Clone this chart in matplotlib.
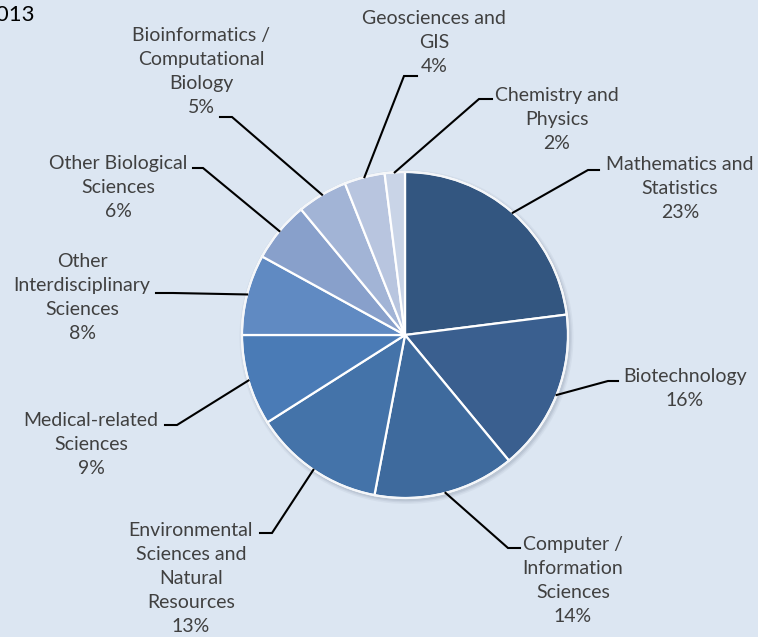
import numpy as np
import matplotlib.pyplot as plt
from matplotlib.patches import Circle

plt.rcParams['font.family'] = ['Lato', 'DejaVu Sans']

# data
categories = ['Mathematics and\nStatistics', 'Biotechnology',
              'Computer /\nInformation\nSciences',
              'Environmental\nSciences and\nNatural\nResources',
              'Medical-related\nSciences', 'Other\nInterdisciplinary\nSciences',
              'Other Biological\nSciences', 'Bioinformatics /\nComputational\nBiology',
              'Geosciences and\nGIS', 'Chemistry and\nPhysics']
shares = [23, 16, 14, 13, 9, 8, 6, 5, 4, 2]

colors = ['#335680', '#3a5f8f', '#3e6a9d', '#4473a9', '#4a7bb6',
          '#608ac2', '#88a0cb', '#a2b4d6', '#b8c5df', '#c9d4e7']

W, H = 758, 637
def fy(y):
    # pixel row -> data y
    return H - y

# label layout (pixel coords): text centre x, first line y, elbow, line end
lab_x = [680, 685, 573, 191, 91, 82, 118, 201, 434, 557]
lab_y = [163, 376, 542, 527, 419, 259, 162, 33, 17, 94]
elbow = [(588, 170), (608, 381), (508, 548), (272, 533), (177, 425),
         (173, 293), (203, 168), (232, 117), (404, 76), (479, 99)]
lend = [(599, 170), (618, 381), (520, 548), (260, 533), (165, 425),
        (156, 293), (193, 168), (220, 117), (417, 76), (492, 99)]

cx, cy, R = 405, 335, 163
line_h = 25.8

fig = plt.figure(figsize=(W / 100, H / 100), dpi=100)
fig.patch.set_facecolor('#dce6f2')
ax = fig.add_axes([0, 0, 1, 1])

wedges, _ = ax.pie(shares, colors=colors, startangle=90, counterclock=False,
                   center=(cx, fy(cy)), radius=R,
                   wedgeprops=dict(edgecolor='white', linewidth=1.6))
for w in wedges:
    w.set_zorder(2)

ax.set_xlim(0, W)
ax.set_ylim(0, H)
ax.set_aspect('equal')
ax.axis('off')

# soft shadow
for k, a in [(4, 0.10), (2.5, 0.15), (1.2, 0.2)]:
    ax.add_patch(Circle((cx + 1.5, fy(cy) - 2), R + k, color='#8a96a8', alpha=a, lw=0, zorder=1))
ax.add_patch(Circle((cx, fy(cy)), R, fill=False, ec='#f4f6f9', lw=1.4, zorder=3))

for i, w in enumerate(wedges):
    ang = np.deg2rad((w.theta1 + w.theta2) / 2)
    sx, sy = cx + R * np.cos(ang), fy(cy) + R * np.sin(ang)
    ex, ey = elbow[i]
    tx, ty = lend[i]
    ax.plot([sx, ex, tx], [sy, fy(ey), fy(ty)], color='black', lw=1.5,
            solid_joinstyle='miter', zorder=4)
    txt = categories[i] + '\n' + f'{shares[i]}%'
    n = txt.count('\n') + 1
    yc = lab_y[i] + (n - 1) * line_h / 2
    ax.text(lab_x[i], fy(yc), txt, ha='center', va='center', multialignment='center',
            fontsize=14, color='#404040', linespacing=1.5, zorder=5)

ax.text(34, fy(15), '2013', ha='right', va='center', fontsize=16, color='black')

fig.savefig('out.png', dpi=100, facecolor=fig.get_facecolor())
